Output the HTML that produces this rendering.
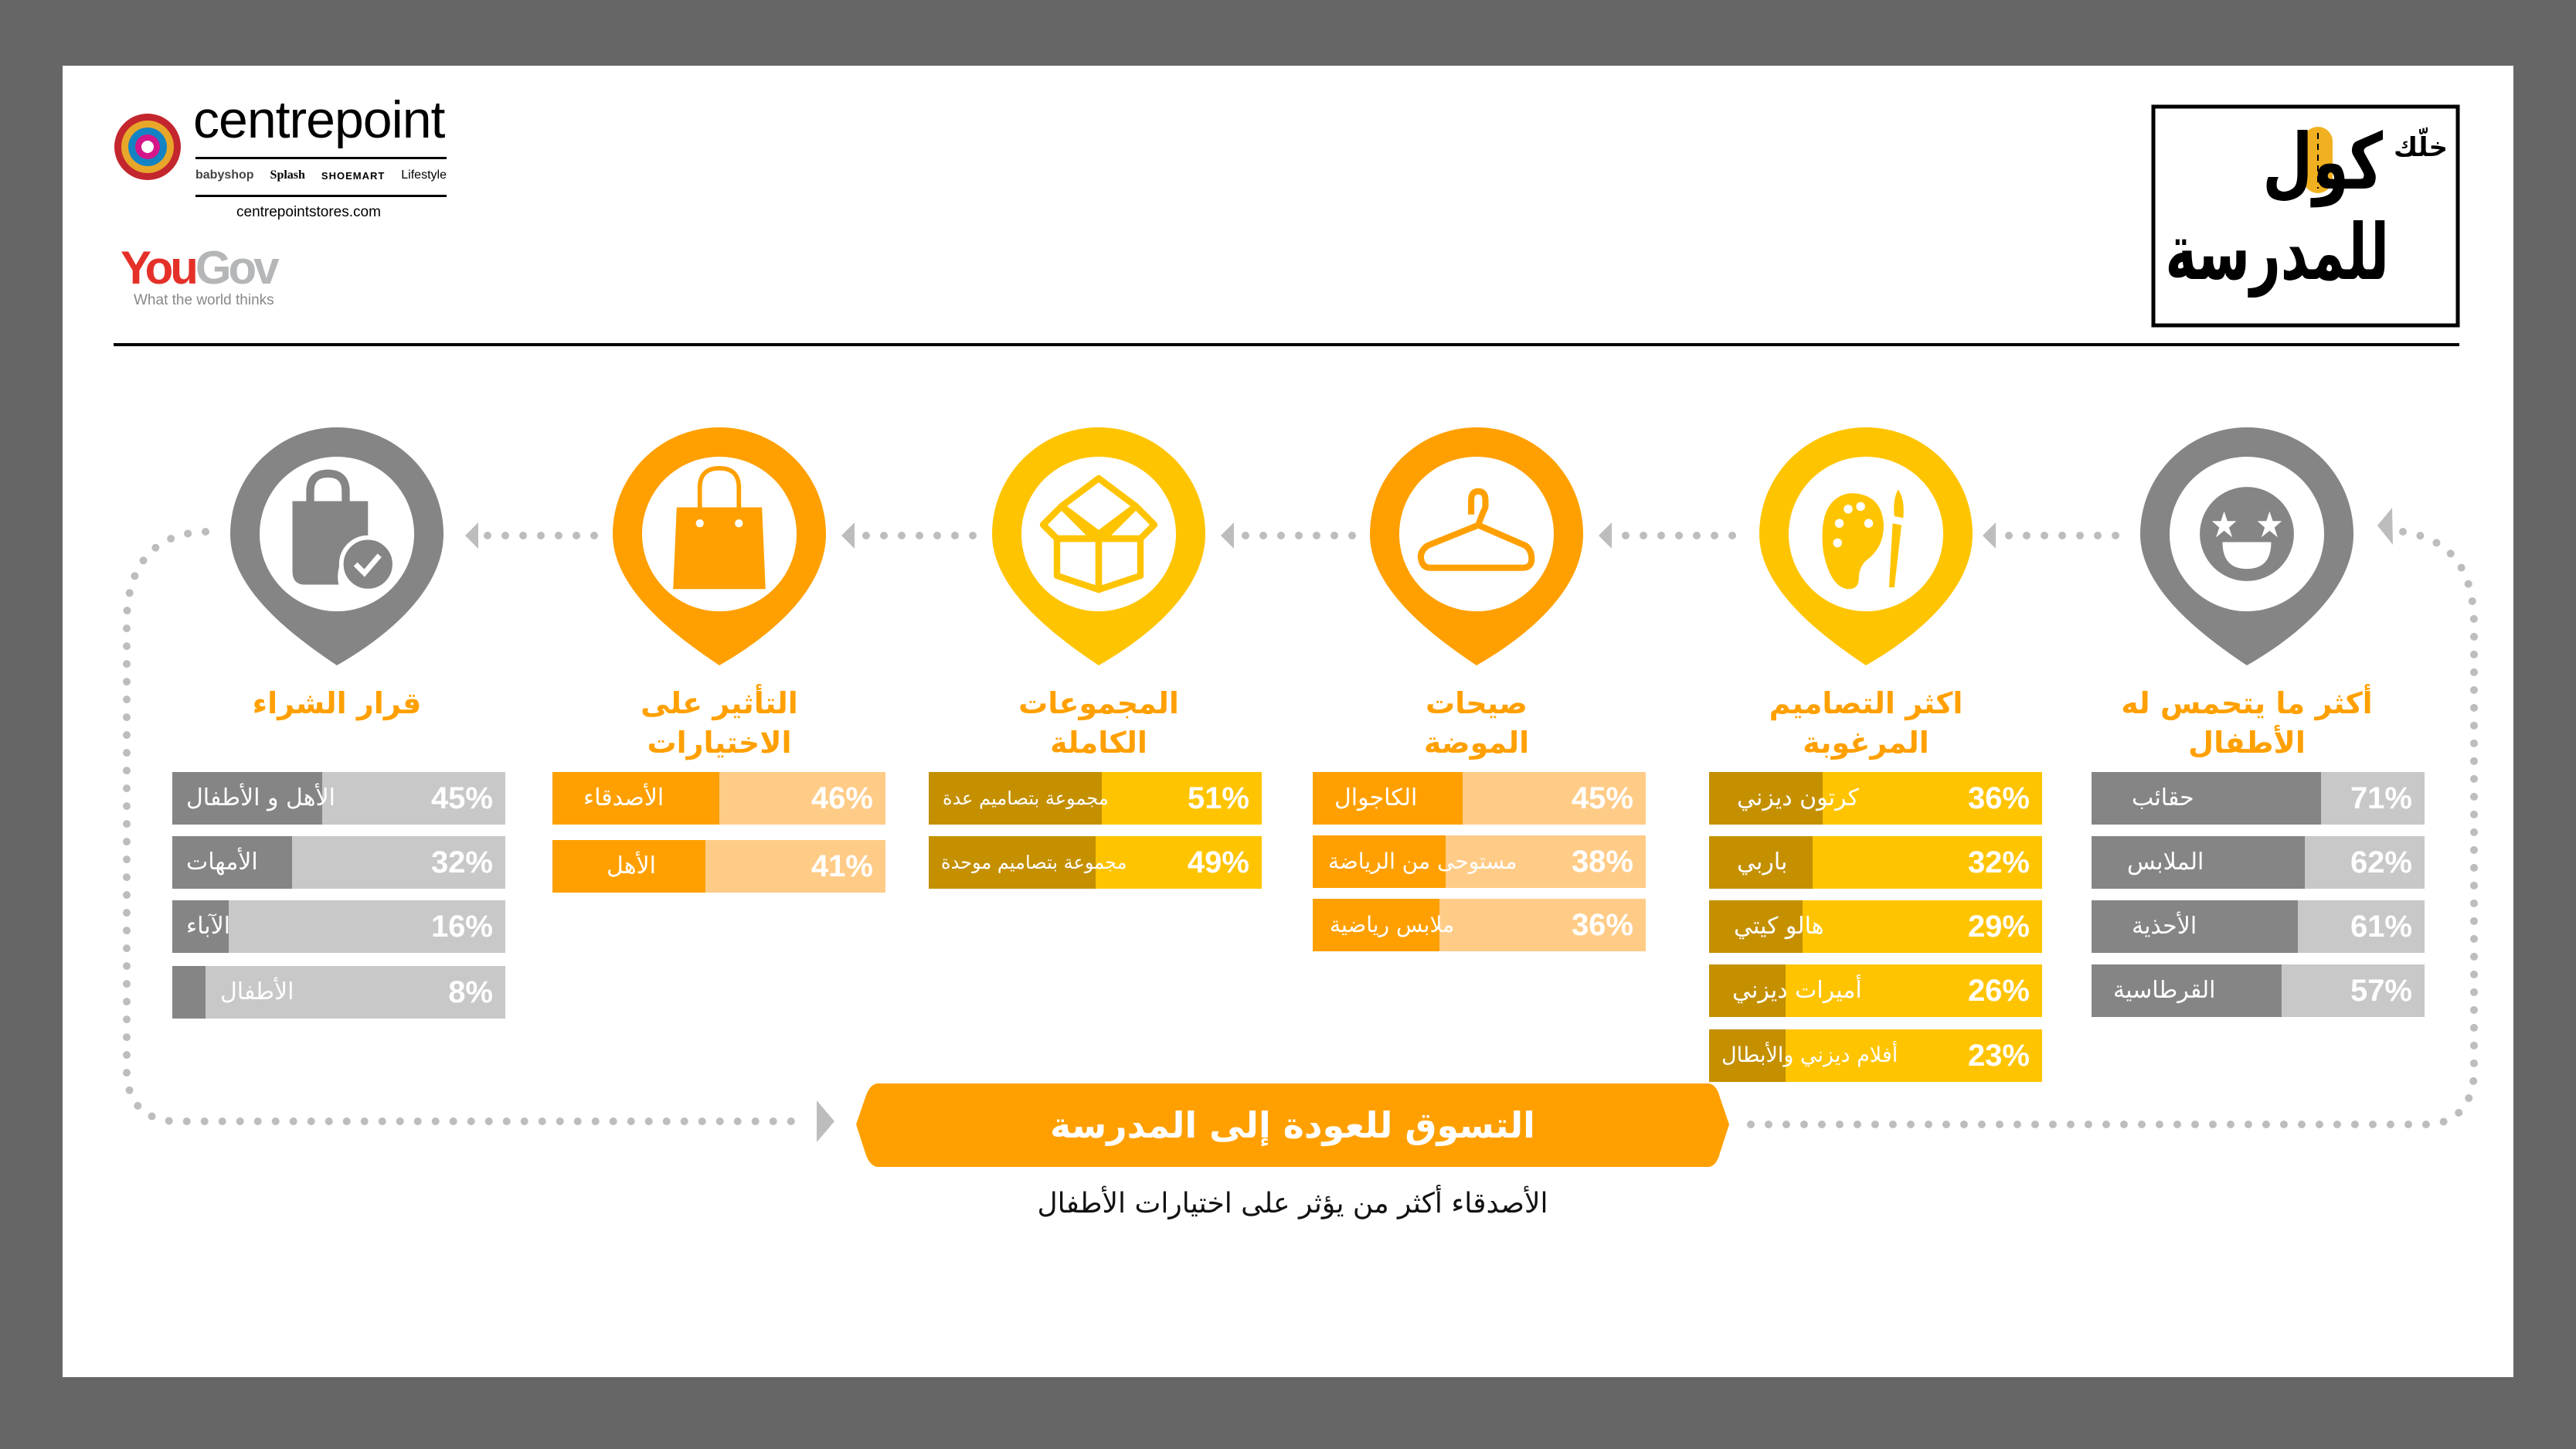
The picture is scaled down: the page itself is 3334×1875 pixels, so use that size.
<!DOCTYPE html>
<html><head><meta charset="utf-8">
<style>
html,body{margin:0;padding:0;}
body{width:3334px;height:1875px;background:#666;position:relative;overflow:hidden;font-family:"DejaVu Sans","Liberation Sans",sans-serif;}
.panel{position:absolute;left:81px;top:85px;width:3172px;height:1697px;background:#fff;}
.abs{position:absolute;}
.ar{font-family:"DejaVu Sans",sans-serif;direction:rtl;white-space:nowrap;}
.h{position:absolute;width:500px;text-align:center;color:#FFA000;font-weight:bold;font-size:38px;line-height:51px;font-family:"DejaVu Sans",sans-serif;direction:rtl;}
.bar{position:absolute;width:431px;height:68px;overflow:hidden;}
.bar .d{position:absolute;left:0;top:0;height:100%;}
.bar .l{position:absolute;left:18px;top:0;line-height:68px;color:#fff;font-size:30px;font-family:"DejaVu Sans",sans-serif;direction:rtl;white-space:nowrap;}
.bar .p{position:absolute;right:16px;top:0;line-height:68px;color:#fff;font-size:40px;font-weight:bold;font-family:"Liberation Sans",sans-serif;}
.g{background:#c8c8c8}.g .d{background:#858585}
.o{background:#FFCC88}.o .d{background:#FFA000}
.y{background:#FFC400}.y .d{background:#C49000}
.rl{position:absolute;text-align:right;direction:rtl;white-space:nowrap;font-family:"DejaVu Sans",sans-serif;font-weight:bold;color:#000;transform-origin:right center;}
</style></head><body>
<div class="panel"></div>

<svg class="abs" style="left:0;top:0" width="3334" height="1875" viewBox="0 0 3334 1875">
  <circle cx="191" cy="190" r="43" fill="#c4262e"/>
  <circle cx="191" cy="190" r="34" fill="#e8a72a"/>
  <circle cx="191" cy="190" r="25" fill="#1383c4"/>
  <circle cx="191" cy="190" r="16" fill="#d4168a"/>
  <circle cx="191" cy="190" r="8" fill="#fff"/>
  <rect x="253" y="203" width="325" height="3" fill="#000"/>
  <rect x="253" y="252" width="325" height="3" fill="#000"/>
  <rect x="147" y="444" width="3036" height="4" fill="#000"/>
  <rect x="2787" y="138" width="394" height="283" fill="none" stroke="#000" stroke-width="5"/>

  <g fill="none" stroke="#bdbdbd" stroke-width="10" stroke-linecap="round" stroke-dasharray="0 23">
    <path d="M266 688 C200 690 166 730 164 800 L164 1390 C166 1430 190 1451 230 1451 L1030 1451"/>
    <path d="M3110 688 C3175 698 3202 740 3202 810 L3202 1390 C3200 1430 3178 1455 3140 1455 L2265 1455"/>
    <path d="M631 693 L775 693"/>
    <path d="M1121 693 L1265 693"/>
    <path d="M1612 693 L1756 693"/>
    <path d="M2104 693 L2248 693"/>
    <path d="M2600 693 L2744 693"/>
  </g>
  <g fill="#bdbdbd">
    <polygon points="602,693 619,676 619,710"/>
    <polygon points="1089,693 1106,676 1106,710"/>
    <polygon points="1580,693 1597,676 1597,710"/>
    <polygon points="2069,693 2086,676 2086,710"/>
    <polygon points="2566,693 2583,676 2583,710"/>
    <polygon points="3077,680 3096,657 3097,705"/>
    <polygon points="1080,1451 1057,1424 1057,1478"/>
  </g>

  <path d="M1135 1402 L2212 1402 Q2222 1404 2226 1420 L2238 1455 L2226 1492 Q2222 1508 2212 1510 L1135 1510 Q1125 1508 1120 1492 L1108 1455 L1120 1420 Q1125 1404 1135 1402 Z" fill="#FFA000"/>

  <defs>
    <path id="pin" d="M-138 0 A138 138 0 0 1 138 0 C138 70 70 130 0 170 C-60 130 -138 70 -138 0 Z"/>
  </defs>
  <g transform="translate(436,691)"><use href="#pin" fill="#858585"/><circle r="100" fill="#fff"/>
    <g transform="scale(1.15)">
    <path d="M-50 -37 L-50 42 Q-50 56 -38 57 L2 57 Q-2 40 10 20 Q20 8 35 6 L35 -37 Z" fill="#858585"/>
    <path d="M-30 -37 L-30 -48 Q-30 -68 -10 -68 Q10 -68 10 -48 L10 -37" fill="none" stroke="#858585" stroke-width="9"/>
    <circle cx="35" cy="34" r="30" fill="#858585" stroke="#fff" stroke-width="5"/>
    <path d="M21 34 L31 44 L48 24" fill="none" stroke="#fff" stroke-width="6"/>
    </g>
  </g>
  <g transform="translate(931,691)"><use href="#pin" fill="#FFA000"/><circle r="100" fill="#fff"/>
    <g transform="scale(1.15)">
    <polygon points="-48,-30 48,-30 52,62 -52,62" fill="#FFA000"/>
    <path d="M-22 -16 L-22 -52 Q-22 -74 0 -74 Q22 -74 22 -52 L22 -16" fill="none" stroke="#FFA000" stroke-width="5"/>
    <circle cx="-22" cy="-12" r="6" fill="#fff" stroke="#FFA000" stroke-width="3"/>
    <circle cx="22" cy="-12" r="6" fill="#fff" stroke="#FFA000" stroke-width="3"/>
    </g>
  </g>
  <g transform="translate(1422,691)"><use href="#pin" fill="#FFC400"/><circle r="100" fill="#fff"/>
    <g fill="none" stroke="#FFC400" stroke-width="7" stroke-linejoin="round" transform="scale(1.2)">
      <polygon points="0,-60 -40,-30 0,0 40,-30"/>
      <polygon points="-40,-30 -60,-10 -45,5 -5,5"/>
      <polygon points="40,-30 60,-10 45,5 5,5"/>
      <polygon points="-45,5 -45,45 0,60 0,5"/>
      <polygon points="45,5 45,45 0,60 0,5"/>
    </g>
  </g>
  <g transform="translate(1911,691)"><use href="#pin" fill="#FFA000"/><circle r="100" fill="#fff"/>
    <path transform="scale(1.15)" d="M-6 -22 L-6 -38 Q-6 -48 2 -48 Q10 -48 10 -38 L10 -30 Q6 -22 2 -10 L-55 13 Q-65 20 -62 30 Q-60 38 -52 38 L52 38 Q62 38 62 28 Q62 18 55 13 L2 -10" fill="none" stroke="#FFA000" stroke-width="7" stroke-linejoin="round"/>
  </g>
  <g transform="translate(2415,691)"><use href="#pin" fill="#FFC400"/><circle r="100" fill="#fff"/>
    <g transform="scale(1.15)">
    <path d="M-18 -46 Q18 -46 20 -10 Q20 16 0 30 Q-8 38 -8 50 Q-8 62 -20 62 Q-40 60 -48 20 Q-55 -40 -18 -46 Z" fill="#FFC400"/>
    <circle cx="-20" cy="-28" r="5" fill="#fff"/><circle cx="-6" cy="-31" r="5" fill="#fff"/><circle cx="-30" cy="-12" r="5" fill="#fff"/><circle cx="-32" cy="10" r="5" fill="#fff"/><circle cx="3" cy="-12" r="5" fill="#fff"/>
    <path d="M36 -50 Q44 -40 42 -18 L32 -20 Q30 -38 36 -50 Z M30 -12 L40 -10 L32 60 L26 60 Z" fill="#FFC400"/>
    </g>
  </g>
  <g transform="translate(2908,691)"><use href="#pin" fill="#858585"/><circle r="100" fill="#fff"/>
    <g transform="scale(1.05)">
    <circle r="58" fill="#858585"/>
    <polygon points="-28,-28 -24,-16 -13,-16 -22,-8 -18,4 -28,-4 -38,4 -34,-8 -43,-16 -32,-16" fill="#fff"/>
    <polygon points="28,-28 32,-16 43,-16 34,-8 38,4 28,-4 18,4 22,-8 13,-16 24,-16" fill="#fff"/>
    <path d="M-30 10 L30 10 Q30 43 0 43 Q-30 43 -30 10 Z" fill="#fff"/>
    </g>
  </g>

  <rect x="2981" y="164" width="38" height="86" rx="19" fill="#F0B020"/>
  <line x1="3000" y1="172" x2="3000" y2="244" stroke="#000" stroke-width="2" stroke-dasharray="8 6"/>
</svg>

<div class="abs" style="left:250px;top:116px;font-family:'Liberation Sans',sans-serif;font-size:68px;letter-spacing:-1px;color:#000;">centrepoint</div>
<div class="abs" style="left:253px;top:218px;width:325px;font-family:'Liberation Sans',sans-serif;font-size:16px;color:#000;display:flex;justify-content:space-between;">
  <span style="font-weight:bold;color:#444">babyshop</span><span style="font-family:'Liberation Serif',serif;font-weight:bold">Splash</span><span style="letter-spacing:1px;font-weight:bold;font-size:13px;line-height:20px">SHOEMART</span><span>Lifestyle</span></div>
<div class="abs" style="left:306px;top:264px;font-family:'Liberation Sans',sans-serif;font-size:19px;color:#000;">centrepointstores.com</div>
<div class="abs" style="left:156px;top:312px;font-family:'Liberation Sans',sans-serif;font-size:60px;font-weight:bold;letter-spacing:-4px;"><span style="color:#e5302a">You</span><span style="color:#b4b6b8">Gov</span></div>
<div class="abs" style="left:173px;top:378px;font-family:'Liberation Sans',sans-serif;font-size:19px;color:#888;">What the world thinks</div>

<div class="rl" style="right:166px;top:166px;width:200px;font-size:34px;line-height:50px;">خلّك</div>
<div class="rl" style="right:250px;top:150px;width:400px;font-size:100px;line-height:120px;transform:scaleX(0.75);">كول</div>
<div class="rl" style="right:242px;top:262px;width:600px;font-size:100px;line-height:130px;transform:scaleX(0.69);">للمدرسة</div>

<div class="h" style="left:186px;top:885px">قرار الشراء</div>
<div class="h" style="left:681px;top:885px">التأثير على<br>الاختيارات</div>
<div class="h" style="left:1172px;top:885px">المجموعات<br>الكاملة</div>
<div class="h" style="left:1661px;top:885px">صيحات<br>الموضة</div>
<div class="h" style="left:2165px;top:885px">اكثر التصاميم<br>المرغوبة</div>
<div class="h" style="left:2658px;top:885px">أكثر ما يتحمس له<br>الأطفال</div>

<div class="bar g" style="left:223px;top:999px"><div class="d" style="width:45%"></div><div class="l">الأهل و الأطفال</div><div class="p">45%</div></div>
<div class="bar g" style="left:223px;top:1082px"><div class="d" style="width:36%"></div><div class="l">الأمهات</div><div class="p">32%</div></div>
<div class="bar g" style="left:223px;top:1165px"><div class="d" style="width:17%"></div><div class="l">الآباء</div><div class="p">16%</div></div>
<div class="bar g" style="left:223px;top:1250px"><div class="d" style="width:10%"></div><div class="l" style="left:62px">الأطفال</div><div class="p">8%</div></div>
<div class="bar o" style="left:715px;top:999px"><div class="d" style="width:50%"></div><div class="l" style="left:40px">الأصدقاء</div><div class="p">46%</div></div>
<div class="bar o" style="left:715px;top:1087px"><div class="d" style="width:46%"></div><div class="l" style="left:70px">الأهل</div><div class="p">41%</div></div>
<div class="bar y" style="left:1202px;top:999px"><div class="d" style="width:52%"></div><div class="l" style="left:18px;font-size:24px">مجموعة بتصاميم عدة</div><div class="p">51%</div></div>
<div class="bar y" style="left:1202px;top:1082px"><div class="d" style="width:50%"></div><div class="l" style="left:16px;font-size:24px">مجموعة بتصاميم موحدة</div><div class="p">49%</div></div>
<div class="bar o" style="left:1699px;top:999px"><div class="d" style="width:45%"></div><div class="l" style="left:28px">الكاجوال</div><div class="p">45%</div></div>
<div class="bar o" style="left:1699px;top:1081px"><div class="d" style="width:40%"></div><div class="l" style="left:20px;font-size:28px">مستوحى من الرياضة</div><div class="p">38%</div></div>
<div class="bar o" style="left:1699px;top:1163px"><div class="d" style="width:38%"></div><div class="l" style="left:22px;font-size:28px">ملابس رياضية</div><div class="p">36%</div></div>
<div class="bar y" style="left:2212px;top:999px"><div class="d" style="width:34%"></div><div class="l" style="left:36px">كرتون ديزني</div><div class="p">36%</div></div>
<div class="bar y" style="left:2212px;top:1082px"><div class="d" style="width:31%"></div><div class="l" style="left:36px">باربي</div><div class="p">32%</div></div>
<div class="bar y" style="left:2212px;top:1165px"><div class="d" style="width:28%"></div><div class="l" style="left:32px">هالو كيتي</div><div class="p">29%</div></div>
<div class="bar y" style="left:2212px;top:1248px"><div class="d" style="width:23%"></div><div class="l" style="left:30px">أميرات ديزني</div><div class="p">26%</div></div>
<div class="bar y" style="left:2212px;top:1332px"><div class="d" style="width:23%"></div><div class="l" style="left:16px;font-size:27px">أفلام ديزني والأبطال</div><div class="p">23%</div></div>
<div class="bar g" style="left:2707px;top:999px"><div class="d" style="width:69%"></div><div class="l" style="left:52px">حقائب</div><div class="p">71%</div></div>
<div class="bar g" style="left:2707px;top:1082px"><div class="d" style="width:64%"></div><div class="l" style="left:46px">الملابس</div><div class="p">62%</div></div>
<div class="bar g" style="left:2707px;top:1165px"><div class="d" style="width:62%"></div><div class="l" style="left:52px">الأحذية</div><div class="p">61%</div></div>
<div class="bar g" style="left:2707px;top:1248px"><div class="d" style="width:57%"></div><div class="l" style="left:28px">القرطاسية</div><div class="p">57%</div></div>

<div class="abs ar" style="left:1108px;top:1402px;width:1130px;text-align:center;line-height:108px;font-size:46px;font-weight:bold;color:#fff;">التسوق للعودة إلى المدرسة</div>
<div class="abs ar" style="left:1108px;top:1530px;width:1130px;text-align:center;line-height:56px;font-size:36px;color:#111;">الأصدقاء أكثر من يؤثر على اختيارات الأطفال</div>
</body></html>
